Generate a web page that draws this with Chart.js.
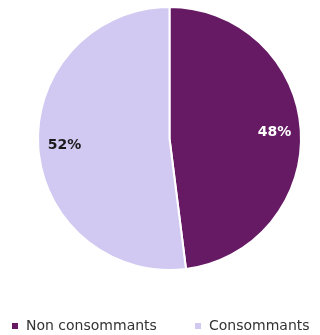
<!DOCTYPE html>
<html>
<head>
<meta charset="utf-8">
<script src="https://cdn.jsdelivr.net/npm/chart.js@4"></script>
<style>
  html, body { margin: 0; padding: 0; background: #fff; }
  #wrap { width: 320px; height: 335px; }
</style>
</head>
<body>
<div id="wrap"><canvas id="pieChart"></canvas></div>
<script>
const categories = ['Non consommants', 'Consommants'];
const shares = [48, 52];
const sliceColors = ['#661a64', '#d2c9f2'];
const labelColors = ['#ffffff', '#1a1a1a'];

// write the percentage inside each slice
const sliceLabels = {
    id: 'sliceLabels',
    afterDatasetsDraw(chart) {
        const ctx = chart.ctx;
        const meta = chart.getDatasetMeta(0);
        ctx.save();
        ctx.font = 'bold 14px "DejaVu Sans", sans-serif';
        ctx.textAlign = 'center';
        ctx.textBaseline = 'middle';
        meta.data.forEach((arc, i) => {
            const mid = (arc.startAngle + arc.endAngle) / 2;
            const r = arc.outerRadius * 0.8;
            ctx.fillStyle = labelColors[i];
            ctx.fillText(shares[i] + '%', arc.x + Math.cos(mid) * r, arc.y + Math.sin(mid) * r);
        });
        ctx.restore();
    }
};

// one-line legend under the pie, small squares before each name
const bottomLegend = {
    id: 'bottomLegend',
    afterDraw(chart) {
        const ctx = chart.ctx;
        const starts = [12, 195];
        const y = 326;
        ctx.save();
        ctx.font = '14px "DejaVu Sans", sans-serif';
        ctx.textBaseline = 'middle';
        categories.forEach((name, i) => {
            ctx.fillStyle = sliceColors[i];
            ctx.fillRect(starts[i], y - 3, 6, 6);
            ctx.fillStyle = '#333333';
            ctx.fillText(name, starts[i] + 14, y);
        });
        ctx.restore();
    }
};

new Chart(document.getElementById('pieChart'), {
    type: 'pie',
    data: {
        labels: categories,
        datasets: [{
            data: shares,
            backgroundColor: sliceColors,
            borderColor: '#ffffff',
            borderWidth: 2
        }]
    },
    options: {
        responsive: true,
        maintainAspectRatio: false,
        animation: false,
        layout: { padding: { left: 19, top: 6, bottom: 64 } },
        plugins: {
            legend: { display: false },
            tooltip: { enabled: false }
        }
    },
    plugins: [sliceLabels, bottomLegend]
});
</script>
</body>
</html>
